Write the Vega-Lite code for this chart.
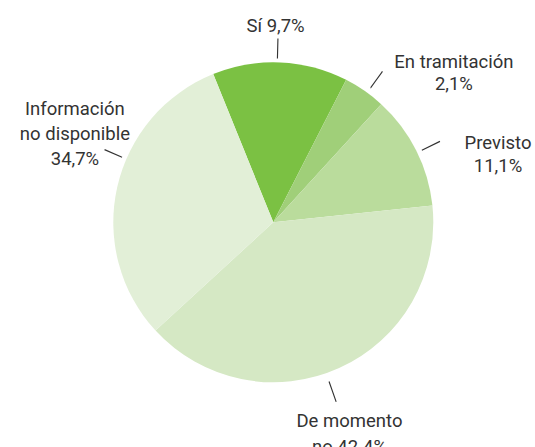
{
  "$schema": "https://vega.github.io/schema/vega-lite/v6.json",
  "width": 523.4,
  "height": 444.6,
  "autosize": {"type": "none"},
  "padding": {"left": 11.6, "top": 0, "right": 0, "bottom": 2.4},
  "background": "white",
  "config": {"view": {"stroke": null}, "text": {"font": "Roboto", "fontSize": 18.5, "color": "#333333"}},
  "data": {
    "values": [
      {"cat": "Sí", "idx": 1, "share": 13.65, "pct": 9.7, "label": "Sí 9,7%"},
      {"cat": "En tramitación", "idx": 2, "share": 4.25, "pct": 2.1, "label": "En tramitación\n2,1%"},
      {"cat": "Previsto", "idx": 3, "share": 11.56, "pct": 11.1, "label": "Previsto\n11,1%"},
      {"cat": "De momento no", "idx": 4, "share": 39.83, "pct": 42.4, "label": "De momento\nno 42.4%"},
      {"cat": "Información no disponible", "idx": 5, "share": 30.71, "pct": 34.7, "label": "Información\nno disponible\n34,7%"}
    ]
  },
  "encoding": {
    "theta": {"field": "share", "type": "quantitative", "stack": true, "scale": {"domain": [0, 100], "range": [-0.38485, 5.89834]}},
    "order": {"field": "idx", "type": "quantitative"}
  },
  "layer": [
    {
      "mark": {"type": "arc", "radius": 160},
      "encoding": {
        "color": {"field": "cat", "type": "nominal", "legend": null,
          "scale": {"domain": ["Sí", "En tramitación", "Previsto", "De momento no", "Información no disponible"],
                    "range": ["#7bc143", "#a0cf79", "#badc9c", "#d5e8c4", "#e2efd7"]}}
      }
    },
    {
      "transform": [{"stack": "share", "groupby": [], "sort": [{"field": "idx", "order": "ascending"}], "as": ["s0", "s1"]}, {"filter": "datum.cat === 'Sí'"}],
      "mark": {"type": "arc", "radius": 183.3, "radius2": 164.3, "thetaOffset": 0.41015, "theta2Offset": -0.44768, "filled": false, "stroke": "#333333", "strokeWidth": 1.1},
      "encoding": {"theta": {"field": "s0", "type": "quantitative", "stack": null}, "theta2": {"field": "s1"}}
    },
    {
      "transform": [{"stack": "share", "groupby": [], "sort": [{"field": "idx", "order": "ascending"}], "as": ["s0", "s1"]}, {"filter": "datum.cat === 'En tramitación'"}],
      "mark": {"type": "arc", "radius": 185.7, "radius2": 167, "thetaOffset": 0.15359, "theta2Offset": -0.11345, "filled": false, "stroke": "#333333", "strokeWidth": 1.1},
      "encoding": {"theta": {"field": "s0", "type": "quantitative", "stack": null}, "theta2": {"field": "s1"}}
    },
    {
      "transform": [{"stack": "share", "groupby": [], "sort": [{"field": "idx", "order": "ascending"}], "as": ["s0", "s1"]}, {"filter": "datum.cat === 'Previsto'"}],
      "mark": {"type": "arc", "radius": 184.7, "radius2": 165.7, "thetaOffset": 0.37874, "theta2Offset": -0.34732, "filled": false, "stroke": "#333333", "strokeWidth": 1.1},
      "encoding": {"theta": {"field": "s0", "type": "quantitative", "stack": null}, "theta2": {"field": "s1"}}
    },
    {
      "transform": [{"stack": "share", "groupby": [], "sort": [{"field": "idx", "order": "ascending"}], "as": ["s0", "s1"]}, {"filter": "datum.cat === 'De momento no'"}],
      "mark": {"type": "arc", "radius": 189.7, "radius2": 169.2, "thetaOffset": 1.33867, "theta2Offset": -1.16413, "filled": false, "stroke": "#333333", "strokeWidth": 1.1},
      "encoding": {"theta": {"field": "s0", "type": "quantitative", "stack": null}, "theta2": {"field": "s1"}}
    },
    {
      "transform": [{"stack": "share", "groupby": [], "sort": [{"field": "idx", "order": "ascending"}], "as": ["s0", "s1"]}, {"filter": "datum.cat === 'Información no disponible'"}],
      "mark": {"type": "arc", "radius": 183.2, "radius2": 165.2, "thetaOffset": 1.15017, "theta2Offset": -0.77929, "filled": false, "stroke": "#333333", "strokeWidth": 1.1},
      "encoding": {"theta": {"field": "s0", "type": "quantitative", "stack": null}, "theta2": {"field": "s1"}}
    },
    {
      "mark": {"type": "text", "radius": 215, "dx": -7.2, "dy": 24, "align": "center", "baseline": "alphabetic", "lineBreak": "\n"},
      "encoding": {"text": {"condition": {"test": "datum.cat === 'Sí'", "field": "label"}, "value": ""}}
    },
    {
      "mark": {"type": "text", "radius": 215, "dx": 58.1, "dy": 22.6, "align": "center", "baseline": "alphabetic", "lineBreak": "\n", "lineHeight": 21.7},
      "encoding": {"text": {"condition": {"test": "datum.cat === 'En tramitación'", "field": "label"}, "value": ""}}
    },
    {
      "mark": {"type": "text", "radius": 215, "dx": 32.8, "dy": 23.9, "align": "center", "baseline": "alphabetic", "lineBreak": "\n", "lineHeight": 22.4},
      "encoding": {"text": {"condition": {"test": "datum.cat === 'Previsto'", "field": "label"}, "value": ""}}
    },
    {
      "mark": {"type": "text", "radius": 215, "dx": -12.3, "dy": 8.5, "align": "center", "baseline": "alphabetic", "lineBreak": "\n", "lineHeight": 26.5},
      "encoding": {"text": {"condition": {"test": "datum.cat === 'De momento no'", "field": "label"}, "value": ""}}
    },
    {
      "mark": {"type": "text", "radius": 215, "dx": 11.4, "dy": -60, "align": "center", "baseline": "alphabetic", "lineBreak": "\n", "lineHeight": 25},
      "encoding": {"text": {"condition": {"test": "datum.cat === 'Información no disponible'", "field": "label"}, "value": ""}}
    }
  ]
}
